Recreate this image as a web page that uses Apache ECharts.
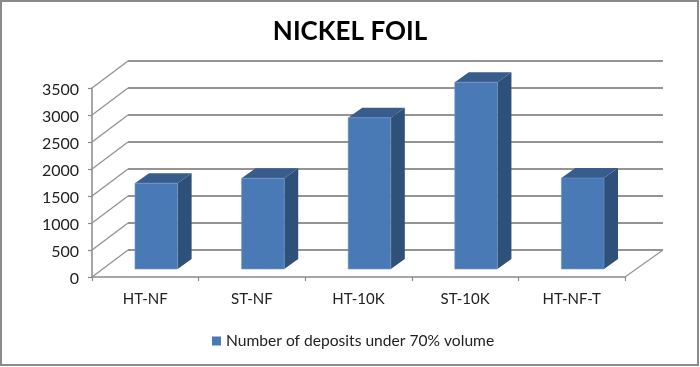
<!DOCTYPE html>
<html><head><meta charset="utf-8">
<style>html,body{margin:0;padding:0;background:#fff}#c{width:700px;height:367px}</style>
<script src="https://cdn.jsdelivr.net/npm/echarts@6/dist/echarts.min.js"></script>
</head><body><div id="c"></div>
<script>
const categories = ['HT-NF','ST-NF','HT-10K','ST-10K','HT-NF-T'];
const deposits = [1590,1680,2800,3460,1685];
const wallTicks = [0,500,1000,1500,2000,2500,3000,3500];
const seriesName = 'Number of deposits under 70% volume';
const titleText = 'NICKEL FOIL';
const font = 'Lato, "Open Sans", sans-serif';
const WALL_DX = 36, WALL_DY = -27;
const BAR_OFF_X = 11, BAR_OFF_Y = -8, DEPTH_X = 14, DEPTH_Y = -10;
const gridColor = '#949494';

const chart = echarts.init(document.getElementById('c'), null, {renderer:'canvas'});
chart.setOption({
  animation:false,
  backgroundColor:'#fff',
  title:{text:titleText,left:'center',top:19,padding:0,textStyle:{fontFamily:font,fontSize:26,fontWeight:'bold',color:'#000'}},
  legend:{data:[{name:seriesName,icon:'rect'}],left:212,top:333,padding:0,itemWidth:9,itemHeight:9,itemGap:4,
    textStyle:{fontFamily:font,fontSize:15.6,color:'#222'}},
  grid:{left:92,top:88,width:533,height:189,containLabel:false},
  xAxis:{type:'category',data:categories,boundaryGap:true,
    axisLine:{lineStyle:{color:'#8a8a8a',width:1.5}},
    axisTick:{show:true,length:4,alignWithLabel:false,lineStyle:{color:'#8a8a8a',width:1.2}},
    axisLabel:{fontFamily:font,fontSize:15,color:'#222',margin:15},splitLine:{show:false}},
  yAxis:{type:'value',min:0,max:3500,interval:500,
    axisLine:{show:true,lineStyle:{color:'#8a8a8a',width:1.5}},
    axisTick:{show:true,length:4,lineStyle:{color:'#8a8a8a',width:1.2}},
    axisLabel:{margin:13,formatter:v=>'{n|'+v+'}',
      rich:{n:{fontFamily:font,fontSize:16,color:'#222',padding:[4,0,0,0]}}},
    splitLine:{show:false}},
  series:[
    {type:'custom',name:'wall',silent:true,z:1,coordinateSystem:'cartesian2d',encode:{y:1},
     data:wallTicks.map(v=>[0,v]),
     renderItem(params,api){
       const cs=params.coordSys, v=api.value(1), y=api.coord([0,v])[1];
       const xl=cs.x, xr=cs.x+cs.width;
       const children=[
         {type:'line',shape:{x1:xl,y1:y,x2:xl+WALL_DX,y2:y+WALL_DY},style:{stroke:gridColor,lineWidth:1.3}},
         {type:'line',shape:{x1:xl+WALL_DX,y1:y+WALL_DY,x2:xr+WALL_DX+2,y2:y+WALL_DY},style:{stroke:gridColor,lineWidth:2}}
       ];
       if(v===0) children.push({type:'line',shape:{x1:xr,y1:y,x2:xr+WALL_DX+2,y2:y+WALL_DY},style:{stroke:gridColor,lineWidth:1.2}});
       return {type:'group',children};
     }},
    {type:'custom',name:seriesName,z:2,coordinateSystem:'cartesian2d',encode:{x:0,y:1},
     itemStyle:{color:'#4a7ab5'},
     data:deposits.map((v,i)=>[i,v]),
     renderItem(params,api){
       const i=api.value(0), top=api.coord([i,api.value(1)]), base=api.coord([i,0]);
       const w=api.size([1,0])[0]*0.4;
       const x0=top[0]-w/2+BAR_OFF_X, x1=x0+w;
       const yb=base[1]+BAR_OFF_Y, yt=top[1]+BAR_OFF_Y;
       return {type:'group',children:[
         {type:'polygon',shape:{points:[[x1,yb],[x1+DEPTH_X,yb+DEPTH_Y],[x1+DEPTH_X,yt+DEPTH_Y],[x1,yt]]},style:{fill:'#2f5078'}},
         {type:'polygon',shape:{points:[[x0,yt],[x0+DEPTH_X,yt+DEPTH_Y],[x1+DEPTH_X,yt+DEPTH_Y],[x1,yt]]},style:{fill:'#385c8b'}},
         {type:'rect',shape:{x:x0,y:yt,width:w,height:yb-yt},style:{fill:'#4a7ab5',stroke:'#6f97c8',lineWidth:0.6}}
       ]};
     }}
  ],
  graphic:[
    {type:'rect',silent:true,z:100,shape:{x:1,y:1,width:697,height:364},style:{fill:'none',stroke:'#8a8a8a',lineWidth:2}}
  ]
});
</script></body></html>
